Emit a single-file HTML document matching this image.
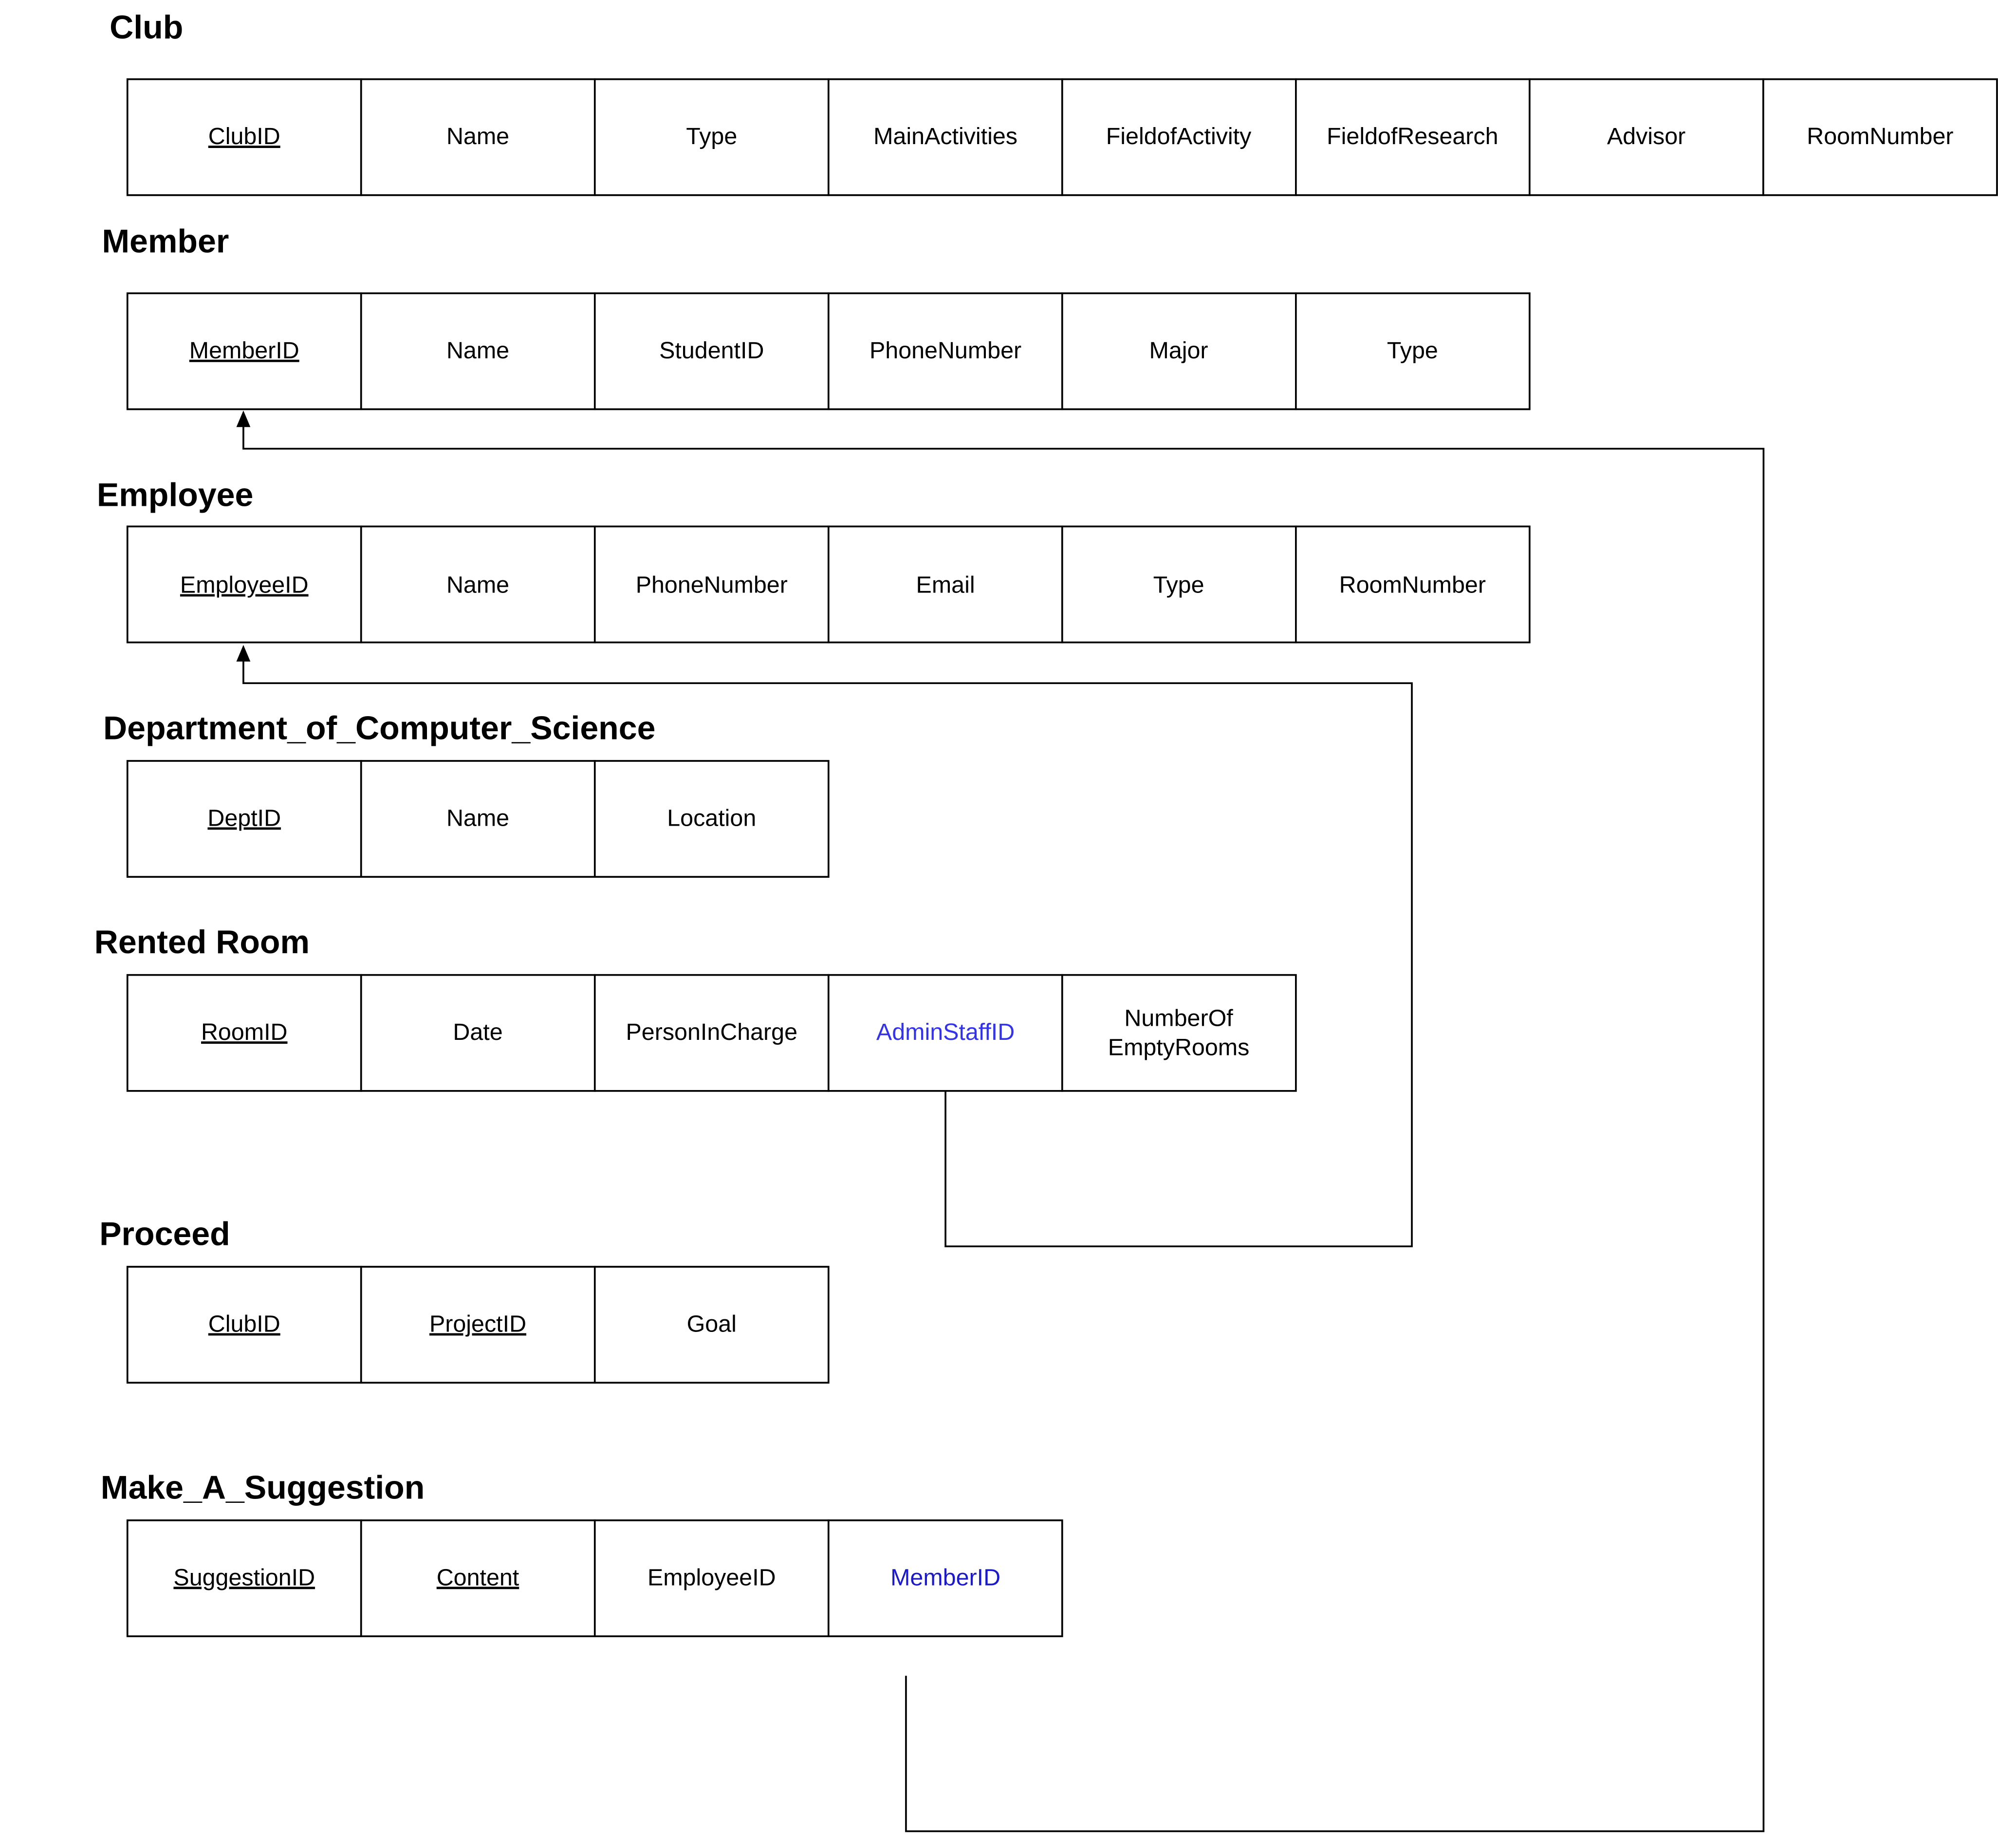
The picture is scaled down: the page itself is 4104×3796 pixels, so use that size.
<!DOCTYPE html>
<html><head><meta charset="utf-8"><style>
html,body{margin:0;padding:0;background:#fff;}
svg{display:block;}
.t{font-family:"Liberation Sans",Arial,sans-serif;font-weight:bold;font-size:26px;fill:#000;}
.c{font-family:"Liberation Sans",Arial,sans-serif;font-size:18.5px;fill:#000;text-anchor:middle;}
.u{text-decoration:underline;}
rect{fill:#fff;stroke:#000;stroke-width:1.4;}
.l{fill:none;stroke:#000;stroke-width:1.4;}
</style></head><body>
<svg width="4104" height="3796" viewBox="0 0 1568 1450" xmlns="http://www.w3.org/2000/svg">
<polyline class="l" points="711,1315 711,1437 1384,1437 1384,352 191,352 191,330"/>
<polygon points="191,322 185.5,335 196.5,335" fill="#000"/>
<polyline class="l" points="742,856 742,978 1108,978 1108,536 191,536 191,514"/>
<polygon points="191,506 185.5,519 196.5,519" fill="#000"/>

<text class="t" x="86" y="30">Club</text>
<g>
<rect x="100" y="62" width="183.4" height="91"/><rect x="283.4" y="62" width="183.4" height="91"/><rect x="466.8" y="62" width="183.4" height="91"/><rect x="650.2" y="62" width="183.4" height="91"/><rect x="833.6" y="62" width="183.4" height="91"/><rect x="1017" y="62" width="183.4" height="91"/><rect x="1200.4" y="62" width="183.4" height="91"/><rect x="1383.8" y="62" width="183.4" height="91"/>
<text class="c u" x="191.7" y="113">ClubID</text><text class="c" x="375" y="113">Name</text><text class="c" x="558.5" y="113">Type</text><text class="c" x="742" y="113">MainActivities</text><text class="c" x="925" y="113">FieldofActivity</text><text class="c" x="1108.5" y="113">FieldofResearch</text><text class="c" x="1292" y="113">Advisor</text><text class="c" x="1475.5" y="113">RoomNumber</text>
</g>

<text class="t" x="80" y="198">Member</text>
<g>
<rect x="100" y="230" width="183.4" height="91"/><rect x="283.4" y="230" width="183.4" height="91"/><rect x="466.8" y="230" width="183.4" height="91"/><rect x="650.2" y="230" width="183.4" height="91"/><rect x="833.6" y="230" width="183.4" height="91"/><rect x="1017" y="230" width="183.4" height="91"/>
<text class="c u" x="191.7" y="281">MemberID</text><text class="c" x="375" y="281">Name</text><text class="c" x="558.5" y="281">StudentID</text><text class="c" x="742" y="281">PhoneNumber</text><text class="c" x="925" y="281">Major</text><text class="c" x="1108.5" y="281">Type</text>
</g>

<text class="t" x="76" y="397">Employee</text>
<g>
<rect x="100" y="413" width="183.4" height="91"/><rect x="283.4" y="413" width="183.4" height="91"/><rect x="466.8" y="413" width="183.4" height="91"/><rect x="650.2" y="413" width="183.4" height="91"/><rect x="833.6" y="413" width="183.4" height="91"/><rect x="1017" y="413" width="183.4" height="91"/>
<text class="c u" x="191.7" y="465">EmployeeID</text><text class="c" x="375" y="465">Name</text><text class="c" x="558.5" y="465">PhoneNumber</text><text class="c" x="742" y="465">Email</text><text class="c" x="925" y="465">Type</text><text class="c" x="1108.5" y="465">RoomNumber</text>
</g>

<text class="t" x="81" y="580">Department_of_Computer_Science</text>
<g>
<rect x="100" y="597" width="183.4" height="91"/><rect x="283.4" y="597" width="183.4" height="91"/><rect x="466.8" y="597" width="183.4" height="91"/>
<text class="c u" x="191.7" y="648">DeptID</text><text class="c" x="375" y="648">Name</text><text class="c" x="558.5" y="648">Location</text>
</g>

<text class="t" x="74" y="748">Rented Room</text>
<g>
<rect x="100" y="765" width="183.4" height="91"/><rect x="283.4" y="765" width="183.4" height="91"/><rect x="466.8" y="765" width="183.4" height="91"/><rect x="650.2" y="765" width="183.4" height="91"/><rect x="833.6" y="765" width="183.4" height="91"/>
<text class="c u" x="191.7" y="816">RoomID</text><text class="c" x="375" y="816">Date</text><text class="c" x="558.5" y="816">PersonInCharge</text><text class="c" x="742" y="816" style="fill:#3333ee">AdminStaffID</text><text class="c" x="925" y="805">NumberOf</text><text class="c" x="925" y="828">EmptyRooms</text>
</g>

<text class="t" x="78" y="977">Proceed</text>
<g>
<rect x="100" y="994" width="183.4" height="91"/><rect x="283.4" y="994" width="183.4" height="91"/><rect x="466.8" y="994" width="183.4" height="91"/>
<text class="c u" x="191.7" y="1045">ClubID</text><text class="c u" x="375" y="1045">ProjectID</text><text class="c" x="558.5" y="1045">Goal</text>
</g>

<text class="t" x="79" y="1176">Make_A_Suggestion</text>
<g>
<rect x="100" y="1193" width="183.4" height="91"/><rect x="283.4" y="1193" width="183.4" height="91"/><rect x="466.8" y="1193" width="183.4" height="91"/><rect x="650.2" y="1193" width="183.4" height="91"/>
<text class="c u" x="191.7" y="1244">SuggestionID</text><text class="c u" x="375" y="1244">Content</text><text class="c" x="558.5" y="1244">EmployeeID</text><text class="c" x="742" y="1244" style="fill:#1a1acc">MemberID</text>
</g>
</svg>
</body></html>
